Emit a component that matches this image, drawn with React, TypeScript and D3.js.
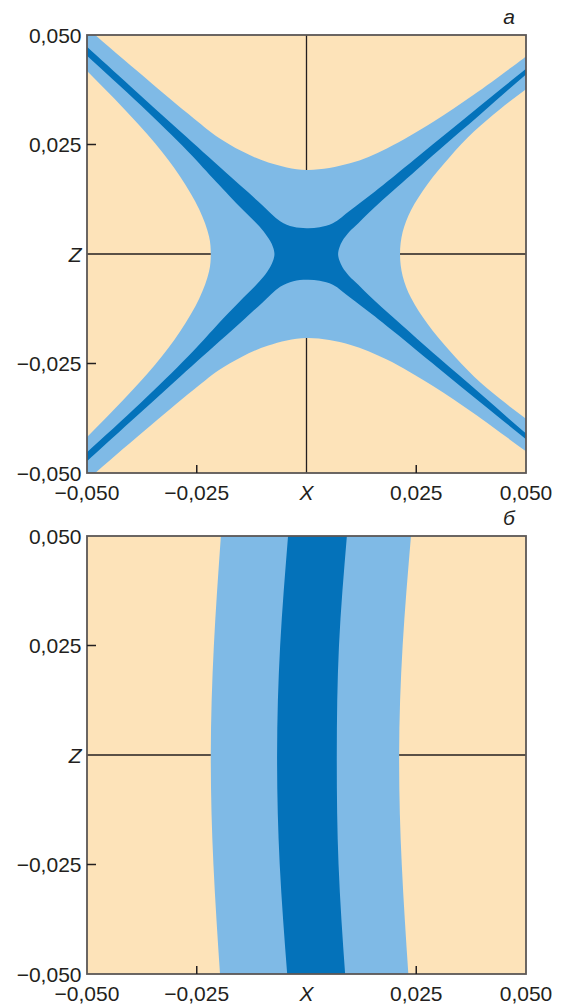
import React from "react";
import * as d3 from "d3";

type P = [number, number]; // [x, z]

// axis ticks and their labels
const ticks = [-0.05, -0.025, 0, 0.025, 0.05];
const xTickLabels = ["−0,050", "−0,025", "X", "0,025", "0,050"];
const zTickLabels = ["−0,050", "−0,025", "Z", "0,025", "0,050"];
const panelNames = ["а", "б"];

// panel а — outer edges of the light band (border with the beige area)
const aTopOuter: P[] = [
  [-0.054, 0.0551], [-0.0478, 0.0497], [-0.0353, 0.039], [-0.0246, 0.0301], [-0.0201, 0.0266],
  [-0.0148, 0.0235], [-0.0087, 0.0209], [0, 0.0192], [0.0099, 0.0207], [0.0183, 0.0241],
  [0.0289, 0.0302], [0.038, 0.0363], [0.0495, 0.0447], [0.054, 0.048],
];
const aBottomOuter: P[] = [
  [-0.054, -0.0551], [-0.0478, -0.0497], [-0.0353, -0.039], [-0.0246, -0.0301], [-0.0201, -0.0266],
  [-0.0148, -0.0235], [-0.0087, -0.0209], [0, -0.0192], [0.0099, -0.0207], [0.0183, -0.0241],
  [0.0289, -0.0302], [0.038, -0.0363], [0.0495, -0.0447], [0.054, -0.048],
];
const aLeftOuter: P[] = [
  [-0.0565, 0.0485], [-0.0497, 0.0415], [-0.0417, 0.0333], [-0.0345, 0.0253], [-0.0288, 0.0177],
  [-0.0244, 0.0101], [-0.0222, 0.004], [-0.0218, 0], [-0.0222, -0.004], [-0.0244, -0.0101],
  [-0.0288, -0.0177], [-0.0345, -0.0253], [-0.0417, -0.0333], [-0.0497, -0.0415], [-0.0565, -0.0485],
];
const aRightOuter: P[] = [
  [0.056, 0.042], [0.05, 0.0376], [0.044, 0.033], [0.0382, 0.028], [0.0325, 0.022],
  [0.0276, 0.016], [0.0238, 0.01], [0.0219, 0.005], [0.0213, 0], [0.0219, -0.005],
  [0.0238, -0.01], [0.0276, -0.016], [0.0325, -0.022], [0.0382, -0.028], [0.044, -0.033],
  [0.05, -0.0376], [0.056, -0.042],
];

// panel а — edges of the dark band
const aTopInner: P[] = [
  [-0.054, 0.051], [-0.05, 0.0473], [-0.04, 0.0382], [-0.03, 0.0291], [-0.02, 0.0201],
  [-0.014, 0.0147], [-0.01, 0.0111], [-0.006, 0.0075], [-0.003, 0.0062], [0, 0.0059],
  [0.003, 0.0061], [0.006, 0.007], [0.01, 0.01], [0.015, 0.0138], [0.02, 0.0178],
  [0.03, 0.026], [0.04, 0.0342], [0.05, 0.0423], [0.054, 0.0456],
];
const aBottomInner: P[] = [
  [-0.054, -0.051], [-0.05, -0.0473], [-0.04, -0.0382], [-0.03, -0.0291], [-0.02, -0.0201],
  [-0.014, -0.0147], [-0.01, -0.0111], [-0.006, -0.0075], [-0.003, -0.0062], [0, -0.0059],
  [0.003, -0.0061], [0.006, -0.007], [0.01, -0.01], [0.015, -0.0138], [0.02, -0.0178],
  [0.03, -0.026], [0.04, -0.0342], [0.05, -0.0423], [0.054, -0.0456],
];
const aLeftInner: P[] = [
  [-0.0603, 0.0548], [-0.0551, 0.05], [-0.0508, 0.046], [-0.0378, 0.034], [-0.027, 0.0234],
  [-0.0207, 0.0166], [-0.0175, 0.0132], [-0.0144, 0.01], [-0.0118, 0.0074], [-0.0098, 0.0052],
  [-0.0083, 0.003], [-0.0076, 0.0015], [-0.0073, 0], [-0.0076, -0.0015], [-0.0083, -0.003],
  [-0.0098, -0.0052], [-0.0118, -0.0074], [-0.0144, -0.01], [-0.0175, -0.0132], [-0.0207, -0.0166],
  [-0.027, -0.0234], [-0.0378, -0.034], [-0.0508, -0.046], [-0.0551, -0.05], [-0.0603, -0.0548],
];
const aRightInner: P[] = [
  [0.0609, 0.05], [0.05, 0.041], [0.0395, 0.0318], [0.03, 0.0236], [0.0208, 0.0154],
  [0.0172, 0.0122], [0.0142, 0.0094], [0.0118, 0.007], [0.0097, 0.005], [0.0082, 0.003],
  [0.0075, 0.0015], [0.0072, 0], [0.0075, -0.0015], [0.0082, -0.003], [0.0097, -0.005],
  [0.0118, -0.007], [0.0142, -0.0094], [0.0172, -0.0122], [0.0208, -0.0154], [0.03, -0.0236],
  [0.0395, -0.0318], [0.05, -0.041], [0.0609, -0.05],
];

// panel б — band edges: x at each z level
const bZ = [0.05, 0.025, 0, -0.025, -0.05];
const bLightLeft = [-0.0195, -0.0211, -0.0218, -0.0212, -0.0197];
const bDarkLeft = [-0.0042, -0.006, -0.0067, -0.0061, -0.0044];
const bDarkRight = [0.0092, 0.0074, 0.0069, 0.0073, 0.0088];
const bLightRight = [0.0238, 0.0219, 0.0211, 0.0217, 0.0232];

const C = { beige: "#fde3b9", light: "#7fbae6", dark: "#0472ba", frame: "#5b5756", ink: "#231f20" };
const FONT = "'Liberation Sans', Arial, Helvetica, sans-serif";
const LEFT = 87, RIGHT = 526, PH = 438;
const TOPS = [35, 536];

function scales(top: number) {
  const x = d3.scaleLinear().domain([-0.05, 0.05]).range([LEFT, RIGHT]);
  const y = d3.scaleLinear().domain([-0.05, 0.05]).range([top + PH, top]);
  return { x, y };
}

function Axes({ top, name }: { top: number; name: string }) {
  const { x, y } = scales(top);
  const bottom = top + PH;
  const inner = ticks.filter((t) => t !== 0 && Math.abs(t) < 0.05);
  return (
    <g fontFamily={FONT} fontSize={21} fill={C.ink}>
      <rect x={LEFT} y={top} width={RIGHT - LEFT} height={PH} fill="none" stroke={C.frame} strokeWidth={1.8} />
      {inner.map((t) => (
        <g key={t} stroke={C.ink} strokeWidth={1.5}>
          <line x1={LEFT} x2={LEFT + 9} y1={y(t)} y2={y(t)} />
          <line x1={x(t)} x2={x(t)} y1={bottom} y2={bottom - 8} />
        </g>
      ))}
      {ticks.map((t, i) => (
        <text key={"z" + i} x={LEFT - 5.5} y={y(t)} dy="0.36em" textAnchor="end" fontStyle={t === 0 ? "italic" : "normal"}>
          {zTickLabels[i]}
        </text>
      ))}
      {ticks.map((t, i) => (
        <text key={"x" + i} x={x(t)} y={bottom + 27} textAnchor="middle" fontStyle={t === 0 ? "italic" : "normal"}>
          {xTickLabels[i]}
        </text>
      ))}
      <text x={509} y={top - 11} textAnchor="middle" fontStyle="italic">{name}</text>
    </g>
  );
}

function CrossLines({ top }: { top: number }) {
  const { x, y } = scales(top);
  return (
    <g stroke={C.ink} strokeWidth={1.3}>
      <line x1={x(0)} x2={x(0)} y1={y(0.05)} y2={y(-0.05)} />
      <line x1={x(-0.05)} x2={x(0.05)} y1={y(0)} y2={y(0)} />
    </g>
  );
}

function PanelA() {
  const top = TOPS[0];
  const { x, y } = scales(top);
  const curve = d3.curveCatmullRom;
  const up = d3.area<P>().x((p) => x(p[0])).y0(y(0.08)).y1((p) => y(p[1])).curve(curve);
  const down = d3.area<P>().x((p) => x(p[0])).y0(y(-0.08)).y1((p) => y(p[1])).curve(curve);
  const lft = d3.area<P>().y((p) => y(p[1])).x0(x(-0.08)).x1((p) => x(p[0])).curve(curve);
  const rgt = d3.area<P>().y((p) => y(p[1])).x0(x(0.08)).x1((p) => x(p[0])).curve(curve);
  const light = [up(aTopInner), down(aBottomInner), lft(aLeftInner), rgt(aRightInner)];
  const beige = [up(aTopOuter), down(aBottomOuter), lft(aLeftOuter), rgt(aRightOuter)];
  return (
    <g>
      <defs>
        <clipPath id="plotA">
          <rect x={LEFT} y={top} width={RIGHT - LEFT} height={PH} />
        </clipPath>
        <clipPath id="beigeA">
          {beige.map((d, i) => <path key={i} d={d || ""} />)}
        </clipPath>
      </defs>
      <g clipPath="url(#plotA)">
        <rect x={LEFT} y={top} width={RIGHT - LEFT} height={PH} fill={C.dark} />
        {light.map((d, i) => <path key={i} d={d || ""} fill={C.light} />)}
        {beige.map((d, i) => <path key={i} d={d || ""} fill={C.beige} />)}
        <g clipPath="url(#beigeA)">
          <CrossLines top={top} />
        </g>
      </g>
      <Axes top={top} name={panelNames[0]} />
    </g>
  );
}

function PanelB() {
  const top = TOPS[1];
  const { x, y } = scales(top);
  const band = (a: number[], b: number[]) =>
    d3.area<number>()
      .y((z) => y(z))
      .x0((_, i) => x(a[i]))
      .x1((_, i) => x(b[i]))
      .curve(d3.curveNatural)(bZ) || "";
  const far = (v: number) => bZ.map(() => v);
  const beige = [band(far(-0.08), bLightLeft), band(bLightRight, far(0.08))];
  return (
    <g>
      <defs>
        <clipPath id="plotB">
          <rect x={LEFT} y={top} width={RIGHT - LEFT} height={PH} />
        </clipPath>
        <clipPath id="beigeB">
          {beige.map((d, i) => <path key={i} d={d} />)}
        </clipPath>
      </defs>
      <g clipPath="url(#plotB)">
        <rect x={LEFT} y={top} width={RIGHT - LEFT} height={PH} fill={C.beige} />
        <path d={band(bLightLeft, bLightRight)} fill={C.light} />
        <path d={band(bDarkLeft, bDarkRight)} fill={C.dark} />
        <g clipPath="url(#beigeB)">
          <CrossLines top={top} />
        </g>
      </g>
      <Axes top={top} name={panelNames[1]} />
    </g>
  );
}

export default function App() {
  return (
    <svg width={562} height={1004} style={{ position: "absolute", left: 0, top: 0, background: "#fff" }}>
      <PanelA />
      <PanelB />
    </svg>
  );
}
